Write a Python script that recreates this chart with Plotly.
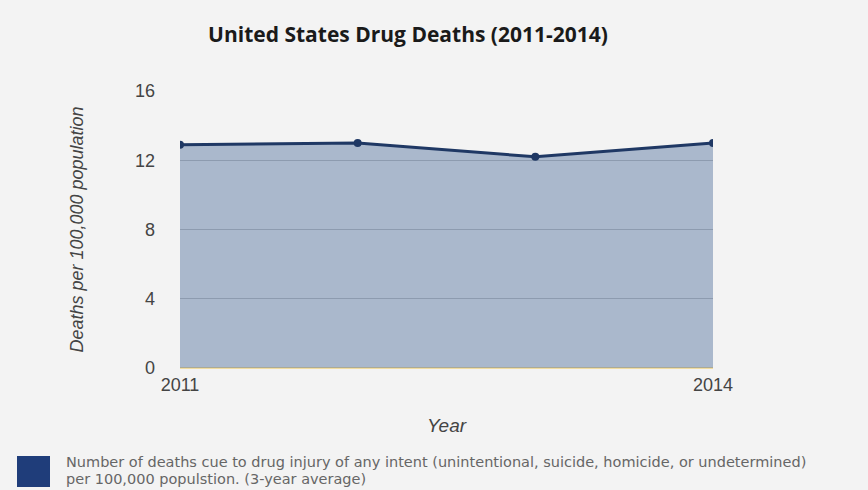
import plotly.graph_objects as go

years = [2011, 2012, 2013, 2014]
deaths = [12.9, 13.0, 12.2, 13.0]
y_ticks = [0, 4, 8, 12, 16]
x_ticks = [2011, 2014]
title = "United States Drug Deaths (2011-2014)"
legend_lines = ["Number of deaths cue to drug injury of any intent (unintentional, suicide, homicide, or undetermined)",
                "per 100,000 populstion. (3-year average)"]

W, H = 868, 490
L, R, T, B = 180, 155, 91, 122
pw = W - L - R
ph = H - T - B

def px_x(p):
    return (p - L) / pw

def px_y(p):
    return 1 - (p - T) / ph

fig = go.Figure()
fig.add_trace(go.Scatter(
    x=years, y=deaths, mode="lines+markers", fill="tozeroy",
    fillcolor="rgba(46,84,138,0.37)",
    line=dict(color="#1f3864", width=3),
    marker=dict(color="#1f3864", size=8),
    showlegend=False, hoverinfo="skip"))

fig.update_layout(
    width=W, height=H,
    margin=dict(l=L, r=R, t=T, b=B),
    paper_bgcolor="#f3f3f3", plot_bgcolor="#f3f3f3",
    title=dict(text="<b>" + title + "</b>", x=408 / W, xanchor="center",
               y=1 - 35 / H, yanchor="middle",
               font=dict(family="Open Sans", size=21, color="#1a1a1a")),
    xaxis=dict(range=[2011, 2014], tickvals=x_ticks, ticktext=[str(v) for v in x_ticks],
               showgrid=False, zeroline=False, showline=False,
               tickfont=dict(family="Arial", size=18, color="#444"),
               ticks="", ticklabelstandoff=4,
               title=dict(text="<i>Year</i>", font=dict(family="Arial", size=19, color="#444"),
                          standoff=24)),
    yaxis=dict(range=[0, 16], tickvals=y_ticks, showgrid=True,
               gridcolor="#c4c4c4", gridwidth=1.2,
               zeroline=True, zerolinecolor="#f2dca0", zerolinewidth=2,
               tickfont=dict(family="Arial", size=18, color="#444"),
               ticks="", ticklabelstandoff=24,
               title=dict(text="<i>Deaths per 100,000 population</i>",
                          font=dict(family="Arial", size=18, color="#444"), standoff=46)),
)

fig.add_shape(type="rect", xref="paper", yref="paper",
              x0=px_x(17), x1=px_x(50), y0=px_y(487), y1=px_y(456),
              fillcolor="#1f3d7a", line=dict(width=0), layer="above")
for i, line in enumerate(legend_lines):
    fig.add_annotation(xref="paper", yref="paper", x=px_x(64), y=px_y(462 + 17 * i),
                       xanchor="left", yanchor="middle", align="left", showarrow=False,
                       text=line,
                       font=dict(family="DejaVu Sans", size=14.5, color="#666"))

fig.write_html("out.html")
